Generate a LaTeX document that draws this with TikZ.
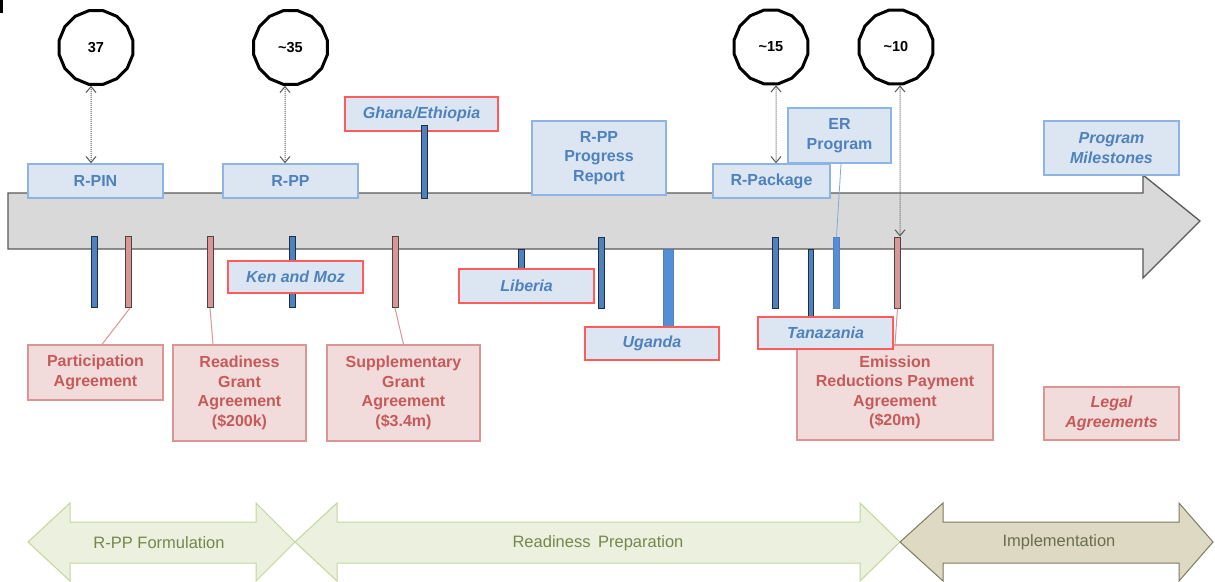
\documentclass[tikz,border=0pt]{standalone}
\usepackage{fontspec}
\setmainfont{Liberation Sans}
\usetikzlibrary{shapes.geometric,arrows.meta,calc}
\definecolor{bluefill}{HTML}{DCE6F2}
\definecolor{blueline}{HTML}{8EB4E3}
\definecolor{bluetext}{HTML}{4F81BD}
\definecolor{redline}{HTML}{FF5B5B}
\definecolor{pinkfill}{HTML}{F2DCDB}
\definecolor{pinkline}{HTML}{D99694}
\definecolor{pinktext}{HTML}{C65A5A}
\definecolor{arrowgray}{HTML}{D9D9D9}
\definecolor{edgegray}{HTML}{595959}
\definecolor{barblue}{HTML}{4F81BD}
\definecolor{barblue2}{HTML}{558ED5}
\definecolor{baredge}{HTML}{1F2F45}
\definecolor{barpink}{HTML}{D99694}
\definecolor{greenfill}{HTML}{EBF1DE}
\definecolor{greenline}{HTML}{C3D69B}
\definecolor{greentext}{HTML}{76864E}
\definecolor{olivefill}{HTML}{DDD9C3}
\definecolor{oliveline}{HTML}{7F7B5F}
\definecolor{olivetext}{HTML}{6B6E4E}
\begin{document}
\begin{tikzpicture}[x=1pt,y=-1pt,
  txt/.style={font=\fontsize{16}{19.5}\selectfont\bfseries, align=center, inner sep=0pt},
  mbox/.style={txt, draw=blueline, fill=bluefill, line width=1.5pt, text=bluetext},
  mboxi/.style={mbox, font=\fontsize{16}{19.5}\selectfont\bfseries\itshape},
  cbox/.style={txt, draw=redline, fill=bluefill, line width=1.5pt, text=bluetext, font=\fontsize{16}{19.5}\selectfont\bfseries\itshape},
  pbox/.style={txt, draw=pinkline, fill=pinkfill, line width=1.2pt, text=pinktext},
  pboxi/.style={pbox, font=\fontsize{16}{19.5}\selectfont\bfseries\itshape},
  bbar/.style={draw=baredge, fill=barblue, line width=1pt, inner sep=0pt, minimum width=6pt, minimum height=71pt},
  lbar/.style={draw=barblue, fill=barblue2, line width=0.8pt, inner sep=0pt, minimum width=6pt, minimum height=71pt},
  pbar/.style={draw=edgegray!80!black, fill=barpink, line width=1pt, inner sep=0pt, minimum width=6pt, minimum height=71pt},
  ms/.style={regular polygon, regular polygon sides=16, minimum size=75pt, draw=black, line width=3pt, inner sep=0pt, font=\fontsize{14.5}{18}\selectfont\bfseries},
  dar/.style={densely dotted, draw=edgegray, line width=1pt, {Straight Barb[length=6pt,width=10pt]}-{Straight Barb[length=6pt,width=10pt]}},
  con/.style={draw=pinkline, line width=1pt},
  garrow/.style={draw=greenline, fill=greenfill, line width=1pt},
  oarrow/.style={draw=oliveline, fill=olivefill, line width=1pt},
  btxt/.style={font=\fontsize{16.5}{19}\selectfont, inner sep=0pt}
]
\useasboundingbox (0,0) rectangle (1215,581);
\fill[white] (0,0) rectangle (1215,581);
\fill[black] (0,0) rectangle (2.5,13);

% main timeline arrow
\draw[fill=arrowgray, draw=edgegray, line width=1.3pt]
  (8,193) -- (1143,193) -- (1143,175) -- (1200,221) -- (1143,278) -- (1143,249) -- (8,249) -- cycle;

% milestone circles
\node[ms] (c37) at (96,47.5) {37};
\node[ms] (c35) at (290.5,47.5) {\textasciitilde35};
\node[ms] (c15) at (771,47) {\textasciitilde15};
\node[ms] (c10) at (896,47) {\textasciitilde10};

% Ghana box (under its bar)
\node[cbox, minimum width=153pt, minimum height=34pt] (ghana) at (421.5,114) {Ghana/Ethiopia};

% bars
\node[bbar] (b1) at (94.5,272) {};
\node[pbar] (p1) at (128.5,272) {};
\node[pbar] (p2) at (210,272) {};
\node[bbar] (b2) at (292.5,272) {};
\node[pbar] (p3) at (395,272) {};
\node[bbar, minimum height=73pt] (bgh) at (424.5,161.5) {};
\node[bbar, minimum height=21pt] (blib) at (521,259.5) {};
\node[bbar] (b3) at (601,272.5) {};
\node[lbar, minimum width=10pt, minimum height=79pt] (bug) at (668,288.5) {};
\node[bbar] (b4) at (775.5,272.5) {};
\node[bbar, minimum width=5pt, minimum height=69pt] (btz) at (810.5,283.5) {};
\node[lbar] (ber) at (836.5,272.5) {};
\node[pbar] (p4) at (897.5,272.5) {};

% blue milestone boxes
\node[mbox, minimum width=135pt, minimum height=34pt] (rpin) at (95.5,181) {R-PIN};
\node[mbox, minimum width=135pt, minimum height=34pt] (rpp) at (290.5,181) {R-PP};
\node[mbox, minimum width=134pt, minimum height=74pt] (rppprog) at (599,158) {R-PP\\Progress\\Report};
\node[mbox, minimum width=117pt, minimum height=34pt] (rpack) at (771.5,181) {R-Package};
\node[mbox, minimum width=103pt, minimum height=55pt] (erprog) at (839.5,135.5) {ER\\Program};
\node[mboxi, minimum width=135pt, minimum height=54pt] (progm) at (1111.5,148) {Program\\Milestones};

% legal agreement boxes
\node[pbox, minimum width=135pt, minimum height=55pt] (part) at (95.5,372.5) {Participation\\Agreement};
\node[pbox, minimum width=133pt, minimum height=96pt] (rga) at (239.5,393) {Readiness\\Grant\\Agreement\\(\$200k)};
\node[pbox, minimum width=153pt, minimum height=96pt] (sga) at (403.5,393) {Supplementary\\Grant\\Agreement\\(\$3.4m)};
\node[pbox, minimum width=196pt, minimum height=95pt] (erpa) at (895,392.5) {Emission\\Reductions Payment\\Agreement\\(\$20m)};
\node[pboxi, minimum width=135pt, minimum height=53pt] (legal) at (1111.5,413.5) {Legal\\Agreements};

% connectors
\draw[con] ([xshift=1.5pt]p1.south) -- ([xshift=6.5pt]part.north);
\draw[con] (p2.south) -- ([xshift=-26.5pt]rga.north);
\draw[con] (p3.south) -- (sga.north);
\draw[con] (p4.south) -- (erpa.north);
\draw[draw=blueline!80!bluetext, line width=0.8pt] ([xshift=1.5pt]erprog.south) -- (ber.north);

% country boxes (on top)
\node[cbox, minimum width=135pt, minimum height=32pt] (ken) at (295.5,277) {Ken and Moz};
\node[cbox, minimum width=135pt, minimum height=34pt] (liberia) at (526.5,286) {Liberia};
\node[cbox, minimum width=134pt, minimum height=33pt] (uganda) at (652,343.5) {Uganda};
\node[cbox, minimum width=135pt, minimum height=32pt] (tanz) at (825.5,333) {Tanazania};

% dotted double arrows
\draw[dar] ([xshift=-5pt]c37.south) -- ([xshift=-4.5pt]rpin.north);
\draw[dar] ([xshift=-5.5pt]c35.south) -- ([xshift=-5.5pt]rpp.north);
\draw[dar] ([xshift=5pt]c15.south) -- ([xshift=4.5pt]rpack.north);
\draw[dar] ([xshift=4pt]c10.south) -- ([xshift=2.5pt]p4.north);

% phase arrows
\draw[garrow] (28,542) -- (70,503) -- (70,522) -- (256,522) -- (256,503) -- (295,542) -- (256,581) -- (256,563) -- (70,563) -- (70,581) -- cycle;
\draw[garrow] (295,542) -- (337,503) -- (337,522) -- (860,522) -- (860,503) -- (900,542) -- (860,581) -- (860,563) -- (337,563) -- (337,581) -- cycle;
\draw[oarrow] (900,542) -- (943,503) -- (943,522) -- (1179,522) -- (1179,503) -- (1213,542) -- (1179,581) -- (1179,563) -- (943,563) -- (943,581) -- cycle;
\node[btxt, text=greentext] (ph1) at (159,542.5) {R-PP Formulation};
\node[btxt, text=greentext] (ph2) at (598,543) {Readiness\hspace{3pt} Preparation};
\node[btxt, text=olivetext] (ph3) at (1059,542.5) {Implementation};
\end{tikzpicture}
\end{document}
